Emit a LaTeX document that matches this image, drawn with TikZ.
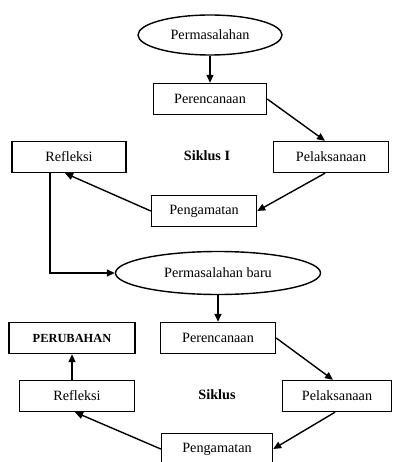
\documentclass[tikz,border=0pt]{standalone}
\usepackage{fontspec}
\setmainfont{Liberation Serif}
\usetikzlibrary{shapes.geometric,arrows.meta}

\begin{document}
\begin{tikzpicture}[x=1pt,y=-1pt,
        kotak/.style={draw,line width=1.4pt,minimum width=#1,minimum height=31pt,inner sep=0pt},
        elips/.style={draw,ellipse,line width=1.4pt,inner sep=0pt},
        panah/.style={line width=1.4pt,-{Triangle[length=8pt,width=7pt]}},
        font=\fontsize{14.2}{17}\selectfont]

            \useasboundingbox (0,0) rectangle (393,462);

            % Siklus I
            \node[elips,minimum width=144pt,minimum height=40pt] (masalah) at (210,35) {Permasalahan};
            \node[kotak=113pt] (rencana) at (210,99) {Perencanaan};
            \node[kotak=115pt] (laksana) at (331,157) {Pelaksanaan};
            \node[kotak=114pt] (refleksi) at (69,157) {Refleksi};
            \node[kotak=105pt] (amati) at (204,211) {Pengamatan};
            \node[font=\fontsize{14.2}{17}\selectfont\bfseries] (siklusA) at (207,156) {Siklus I};

            % Siklus berikutnya
            \node[elips,minimum width=205pt,minimum height=43pt] (masalahBaru) at (218,273) {Permasalahan baru};
            \node[kotak=115pt] (rencanaB) at (218,338) {Perencanaan};
            \node[kotak=126pt,font=\fontsize{12.4}{15}\selectfont\bfseries] (perubahan) at (72,338) {PERUBAHAN};
            \node[kotak=115pt] (refleksiB) at (77,396) {Refleksi};
            \node[kotak=109pt] (laksanaB) at (337,396) {Pelaksanaan};
            \node[kotak=111pt] (amatiB) at (217,449) {Pengamatan};
            \node[font=\fontsize{14.2}{17}\selectfont\bfseries] (siklusB) at (217,395) {Siklus};

            % Connections
            \draw[panah] (masalah.south) -- (rencana.north); % masalah ke perencanaan
            \draw[panah] (rencana.east) -- ([xshift=-6pt]laksana.north); % perencanaan ke pelaksanaan
            \draw[panah] ([xshift=-6pt]laksana.south) -- (amati.east); % pelaksanaan ke pengamatan
            \draw[panah] (amati.west) -- ([xshift=-4pt]refleksi.south); % pengamatan ke refleksi
            \draw[panah] ([xshift=-19pt]refleksi.south) |- (masalahBaru.west); % refleksi ke masalah baru
            \draw[panah] (masalahBaru.south) -- (rencanaB.north); % masalah baru ke perencanaan
            \draw[panah] (rencanaB.east) -- ([xshift=-4pt]laksanaB.north); % perencanaan ke pelaksanaan
            \draw[panah] ([xshift=-2pt]laksanaB.south) -- (amatiB.east); % pelaksanaan ke pengamatan
            \draw[panah] (amatiB.west) -- ([xshift=-2pt]refleksiB.south); % pengamatan ke refleksi
            \draw[panah] ([xshift=-5pt]refleksiB.north) -- (perubahan.south); % refleksi ke perubahan

        \end{tikzpicture}
\end{document}
